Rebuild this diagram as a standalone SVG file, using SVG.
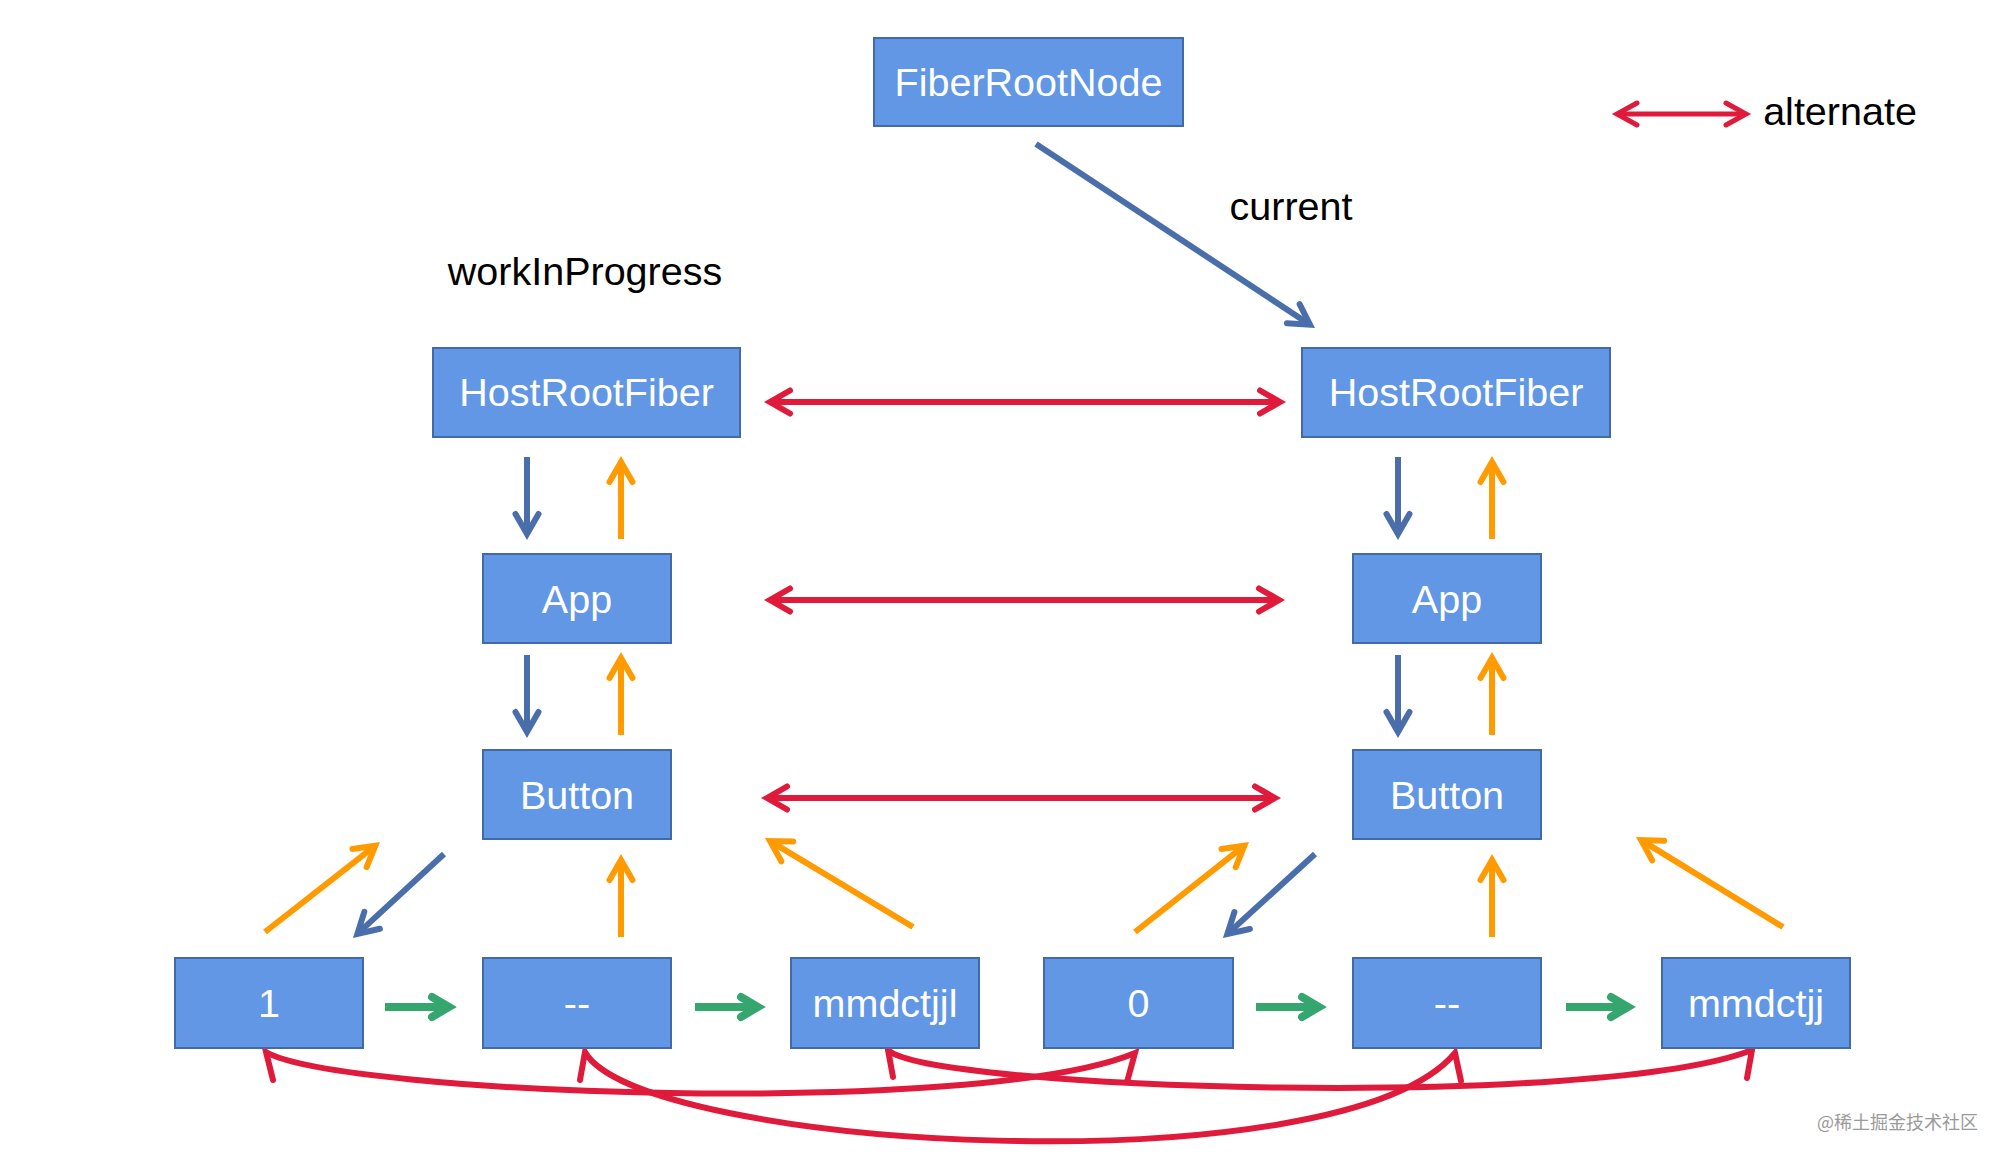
<svg xmlns="http://www.w3.org/2000/svg" width="2008" height="1162" viewBox="0 0 2008 1162">
<style>
.box{fill:#6197E4;stroke:#4269A8;stroke-width:2}
.lbl{font-family:"Liberation Sans",Arial,sans-serif;font-size:39.5px;fill:#FFFFFF;text-anchor:middle}
.note{font-family:"Liberation Sans",Arial,sans-serif;font-size:39.5px;fill:#000000;text-anchor:middle}
.wm{font-family:"Noto Sans CJK SC","Liberation Sans",sans-serif;font-size:18px;fill:#9A9A9A}
.b{stroke:#4A6EAA;stroke-width:6;fill:none;marker-end:url(#mB)}
.o{stroke:#FF9A00;stroke-width:6;fill:none;marker-end:url(#mO)}
.g{stroke:#35A66E;stroke-width:8;fill:none;marker-end:url(#mG)}
.r{stroke:#E01A3B;stroke-width:6;fill:none;marker-start:url(#mR);marker-end:url(#mR)}
.rs{stroke:#E01A3B;stroke-width:5;fill:none;marker-start:url(#mRs);marker-end:url(#mRs)}
.c{stroke:#E01A3B;stroke-width:6;fill:none;stroke-linecap:round;stroke-linejoin:miter}
</style>
<defs>
<marker id="mB" markerUnits="userSpaceOnUse" orient="auto-start-reverse" markerWidth="40" markerHeight="40" refX="0" refY="0" viewBox="-30 -20 40 40" overflow="visible"><path d="M-20,-11.5 L0,0 L-20,11.5" fill="none" stroke="#4A6EAA" stroke-width="6" stroke-linecap="round"/></marker>
<marker id="mO" markerUnits="userSpaceOnUse" orient="auto-start-reverse" markerWidth="40" markerHeight="40" refX="0" refY="0" viewBox="-30 -20 40 40" overflow="visible"><path d="M-20,-11.5 L0,0 L-20,11.5" fill="none" stroke="#FF9A00" stroke-width="6" stroke-linecap="round"/></marker>
<marker id="mR" markerUnits="userSpaceOnUse" orient="auto-start-reverse" markerWidth="40" markerHeight="40" refX="0" refY="0" viewBox="-30 -20 40 40" overflow="visible"><path d="M-20,-11.5 L0,0 L-20,11.5" fill="none" stroke="#E01A3B" stroke-width="6" stroke-linecap="round"/></marker>
<marker id="mRs" markerUnits="userSpaceOnUse" orient="auto-start-reverse" markerWidth="40" markerHeight="40" refX="0" refY="0" viewBox="-30 -20 40 40" overflow="visible"><path d="M-20,-11 L0,0 L-20,11" fill="none" stroke="#E01A3B" stroke-width="5" stroke-linecap="round"/></marker>
<marker id="mG" markerUnits="userSpaceOnUse" orient="auto" markerWidth="40" markerHeight="40" refX="0" refY="0" viewBox="-30 -20 40 40" overflow="visible"><path d="M-17,-10 L0,0 L-17,10" fill="none" stroke="#35A66E" stroke-width="8" stroke-linecap="round"/></marker>
</defs>

<g id="connectors">
  <line class="b" x1="1036" y1="144" x2="1310" y2="324.7"/>
  <line class="r" x1="770" y1="402" x2="1280" y2="402"/>
  <line class="r" x1="770" y1="600" x2="1279" y2="600"/>
  <line class="r" x1="767" y1="798" x2="1275" y2="798"/>
  <line class="b" x1="527" y1="457" x2="527" y2="534"/>
  <line class="o" x1="621" y1="539" x2="621" y2="462"/>
  <line class="b" x1="527" y1="655" x2="527" y2="732"/>
  <line class="o" x1="621" y1="735" x2="621" y2="658"/>
  <line class="b" x1="1398" y1="457" x2="1398" y2="534"/>
  <line class="o" x1="1492" y1="539" x2="1492" y2="462"/>
  <line class="b" x1="1398" y1="655" x2="1398" y2="732"/>
  <line class="o" x1="1492" y1="735" x2="1492" y2="658"/>
  <line class="o" x1="265" y1="932" x2="375.3" y2="845.7"/>
  <line class="b" x1="444" y1="854" x2="357.4" y2="933.9"/>
  <line class="o" x1="621" y1="937" x2="621" y2="860"/>
  <line class="o" x1="913" y1="927" x2="770.1" y2="841.1"/>
  <line class="g" x1="385" y1="1007" x2="449" y2="1007"/>
  <line class="g" x1="695" y1="1007" x2="758" y2="1007"/>
  <line class="o" x1="1135" y1="932" x2="1244.3" y2="845.7"/>
  <line class="b" x1="1315" y1="854" x2="1227.4" y2="934"/>
  <line class="o" x1="1492" y1="937" x2="1492" y2="860"/>
  <line class="o" x1="1783" y1="927" x2="1641.1" y2="840.1"/>
  <line class="g" x1="1256" y1="1007" x2="1319" y2="1007"/>
  <line class="g" x1="1566" y1="1007" x2="1628" y2="1007"/>
  <path class="c" d="M273,1080 L266,1052 C340,1095 980,1118 1135,1053 L1127,1082"/>
  <path class="c" d="M580,1080 L585,1052 C640,1150 1340,1190 1455,1053 L1461,1081"/>
  <path class="c" d="M893,1077 L888,1050 C930,1090 1600,1110 1752,1050 L1747,1078"/>
  <line class="rs" x1="1617" y1="114" x2="1746" y2="114"/>
</g>

<g id="FiberRootNode"><rect class="box" x="874" y="38" width="309" height="88"/><text class="lbl" x="1028.5" y="96">FiberRootNode</text></g>
<g id="HostRootFiber-wip"><rect class="box" x="433" y="348" width="307" height="89"/><text class="lbl" x="586.5" y="406">HostRootFiber</text></g>
<g id="HostRootFiber-current"><rect class="box" x="1302" y="348" width="308" height="89"/><text class="lbl" x="1456" y="406">HostRootFiber</text></g>
<g id="App-wip"><rect class="box" x="483" y="554" width="188" height="89"/><text class="lbl" x="577" y="613">App</text></g>
<g id="App-current"><rect class="box" x="1353" y="554" width="188" height="89"/><text class="lbl" x="1447" y="613">App</text></g>
<g id="Button-wip"><rect class="box" x="483" y="750" width="188" height="89"/><text class="lbl" x="577" y="809">Button</text></g>
<g id="Button-current"><rect class="box" x="1353" y="750" width="188" height="89"/><text class="lbl" x="1447" y="809">Button</text></g>
<g id="n1"><rect class="box" x="175" y="958" width="188" height="90"/><text class="lbl" x="269" y="1017">1</text></g>
<g id="dash-wip"><rect class="box" x="483" y="958" width="188" height="90"/><text class="lbl" x="577" y="1017">--</text></g>
<g id="mmdctjjl"><rect class="box" x="791" y="958" width="188" height="90"/><text class="lbl" x="885" y="1017">mmdctjjl</text></g>
<g id="n0"><rect class="box" x="1044" y="958" width="189" height="90"/><text class="lbl" x="1138.5" y="1017">0</text></g>
<g id="dash-current"><rect class="box" x="1353" y="958" width="188" height="90"/><text class="lbl" x="1447" y="1017">--</text></g>
<g id="mmdctjj"><rect class="box" x="1662" y="958" width="188" height="90"/><text class="lbl" x="1756" y="1017">mmdctjj</text></g>

<g id="labels">
  <text class="note" x="585" y="285">workInProgress</text>
  <text class="note" x="1291" y="220">current</text>
  <text class="note" x="1840" y="125">alternate</text>
  <text class="wm" x="1817" y="1129">@稀土掘金技术社区</text>
</g>
</svg>
